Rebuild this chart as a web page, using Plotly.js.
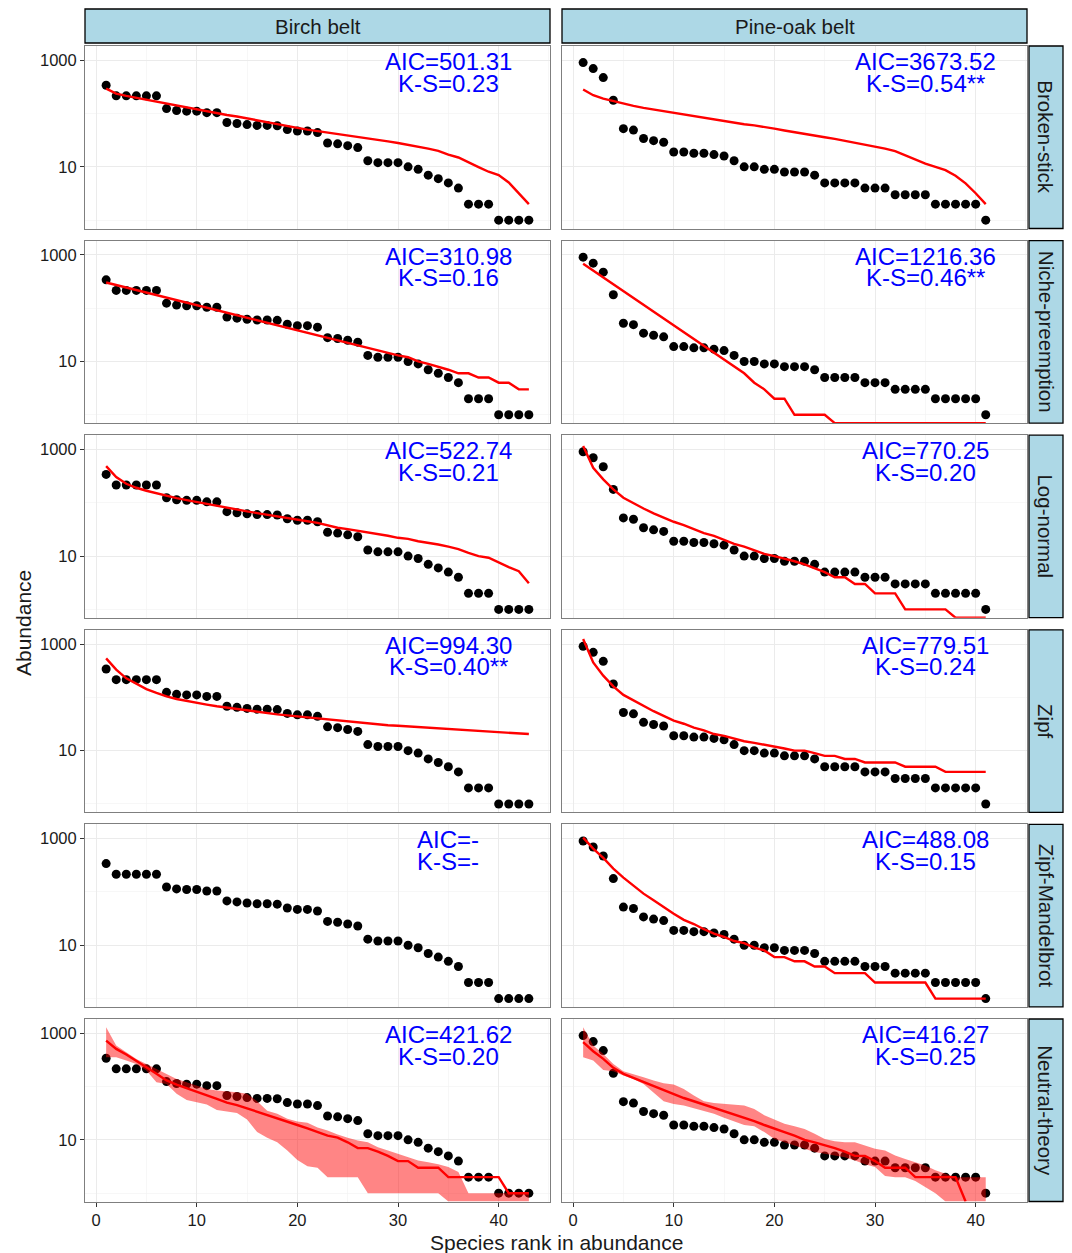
<!DOCTYPE html>
<html>
<head>
<meta charset="utf-8">
<script src="https://cdn.plot.ly/plotly-3.0.1.min.js"></script>
<style>html,body{margin:0;padding:0;background:#fff;}#chart{width:1072px;height:1253px;}</style>
</head>
<body>
<div id="chart"></div>
<script>
// ---------- DATA ----------
const belts = ["Birch belt", "Pine-oak belt"];
const models = ["Broken-stick", "Niche-preemption", "Log-normal", "Zipf", "Zipf-Mandelbrot", "Neutral-theory"];

const birchAbund = [340,215,215,215,215,215,124,114,111,111,104,104,68,65,62,60,60,59,50,47,47,44,28,27,25,23,13,12,12,12,10,9,7,6,5,4,2,2,2,1,1,1,1];
const pineAbund = [904,698,473,178,52,49,34,31,29,19,19,18,18,17,16,13,10,10,9,9,8,8,8,7,5,5,5,5,4,4,4,3,3,3,3,2,2,2,2,2,1];

const birchBrokenStick = [294,237,214,197,180,165,152,139,130,119,111,101,94,88,81,74,68,62,58,54,50,47,44,42,39,37,34,32,30,28,26,24,22,20,17,15,12.4,9.9,8.1,7.0,5.1,3.2,2.0];
const pineBrokenStick = [282,221,191,170,154,139,128,119,111,103,96,89,83,78,73,68,63,60,55,52,48,45,42,39,36,33.5,31,28.6,26,24,22,19.7,16.5,13.9,11.5,10,8.7,6.8,4.9,3.2,2.0];

const birchPreemption = [303,272,244,218,196,176,158,142,127,114,102,92,82,74,66,59,53,48,43,38,34,31,28,25,22,20,18,16,14.5,13,12,10,9,8,7,6,6,5,5,4,4,3,3];
const pinePreemption = [678,505,376,280,208,155,116,86,64,48,36,26.5,19.7,14.7,10.9,8.1,6,4,3,2,2,1,1,1,1,0,0,0,0,0,0,0,0,0,0,0,0,0,0,0,0];

const birchLognormal = [487,303,227,191,168,150,133,122,112,103,94,87,79,74,69,64,60,55,52,48,45,42,38,34,32,30,28,26,24,22,21,19,18,16.5,15,13.5,11.5,10,9.3,7.5,6.2,5.2,3.1];
const pineLognormal = [1155,453,274,178,124,97,78,63,52,44,38,32,27,24,20,17,15,13,11,10,9,8,7,6,5,4,4,3,3,2,2,2,1,1,1,1,1,0,0,0,0];

const birchZipf = [538,331,227,178,143,121,104,93,85,78,73,68,64,60,57,54,51,48,46,44,42,40,38,36.5,35,33.5,32,31,30,29.4,28.6,27.8,27,26,25.5,24.8,24,23.7,23,22.7,22,21.4,20.5];
const pineZipf = [1241,453,255,161,111,87,68,55,45,36.5,32,27,24,20.5,19,17,15,14,13,12,11,10,10,9,8,8,7,7,6,6,6,6,5,5,5,5,4,4,4,4,4];

const birchZipfMandelbrot = null; // not fitted (AIC=-)
const pineZipfMandelbrot = [1044,649,434,274,186,133,93,70,52,39,30,25,20,16.5,14.3,12,11,9,8,6,6,5,5,4,4,3,3,3,3,2,2,2,2,2,2,1,1,1,1,1,1];

const birchNeutral = [729,508,398,307,230,173,130,109,94,82,70,59,50,45,39,34,29,25.5,22.4,19,16.5,14.3,12,11,9,7,7,6,5,4,4,3,3,3,2,2,2,2,2,2,1,1,1];
const birchNeutralUpper = [1300,587,440,330,266,214,173,139,121,104,90,84,82,78,73,53,35,31,25,22,21,17,15,12.6,11,9.7,9,7.3,6.3,5.5,4.7,4.1,3.8,3.5,3.1,2.5,1,1,1,1,1,1,1];
const birchNeutralLower = [355,355,307,266,200,121,112,73,56,51,46,36.5,34.5,32,24,14,11,9,6.3,4.2,3.2,3,2,2,2,2,1,1,1,1,1,1,1,1,0,0,0,0,0,0,0,0,0];
const pineNeutral = [678,460,330,224,173,145,121,101,87,73,61,53,46,40,34.5,30,26,22.4,19,16.5,14,12,10,9,8,7,6,5,5,4,3,3,3,2,2,2,2,2,0];
const pineNeutralUpper = [1296,587,410,266,194,173,150,130,115,109,90,68,53,49,47,46,44,38,29,24,20,18,16,13,10.4,9.4,9,9,7.8,6.8,6.3,5.1,4.4,3.8,3.3,2.7,2.3,2,2,2,2];
const pineNeutralLower = [355,307,205,194,161,139,112,78,53,47,44,39,35,31,26,22,19,18,14,10.4,9,7.8,6.8,5.9,5.5,5.1,4.7,4.1,3.5,3.1,2.1,2,2,1.7,1.3,1,0,0,0,0,0];

const birchAIC = ["AIC=501.31","AIC=310.98","AIC=522.74","AIC=994.30","AIC=-","AIC=421.62"];
const birchKS  = ["K-S=0.23","K-S=0.16","K-S=0.21","K-S=0.40**","K-S=-","K-S=0.20"];
const pineAIC  = ["AIC=3673.52","AIC=1216.36","AIC=770.25","AIC=779.51","AIC=488.08","AIC=416.27"];
const pineKS   = ["K-S=0.54**","K-S=0.46**","K-S=0.20","K-S=0.24","K-S=0.15","K-S=0.25"];

const xTicks = [0,10,20,30,40];
const yTicks = [10,1000];
const yTickText = ["10","1000"];

// ---------- BUILD ----------
const W = 1072, H = 1253;
const FONT = "Liberation Sans, Arial, Helvetica, sans-serif";
const YR = [-0.156, 3.267];
const XR = [-1.1, 45.1];
const floorVal = Math.pow(10, YR[0]);
const clamp = arr => arr.map(v => v > 0 ? v : floorVal);
const ranks = arr => arr.map((_, i) => i + 1);

const colPx = [[85, 550], [562, 1027]];
const rowTop = i => 46 + i * 194.6;
const rowH = 182.5;

const obs = [birchAbund, pineAbund];
const fits = [
  [birchBrokenStick, birchPreemption, birchLognormal, birchZipf, birchZipfMandelbrot, birchNeutral],
  [pineBrokenStick, pinePreemption, pineLognormal, pineZipf, pineZipfMandelbrot, pineNeutral]
];
const bands = [
  [birchNeutralLower, birchNeutralUpper],
  [pineNeutralLower, pineNeutralUpper]
];
const aic = [birchAIC, pineAIC];
const ks = [birchKS, pineKS];

const data = [];
const layout = {
  width: W, height: H,
  margin: {l: 0, r: 0, t: 0, b: 0},
  paper_bgcolor: "#fff", plot_bgcolor: "#fff",
  showlegend: false,
  font: {family: FONT, color: "#1a1a1a"},
  annotations: [], shapes: []
};

for (let r = 0; r < 6; r++) {
  for (let c = 0; c < 2; c++) {
    const n = r * 2 + c + 1;
    const xs = "x" + (n > 1 ? n : ""), ys = "y" + (n > 1 ? n : "");
    const top = rowTop(r);
    layout["xaxis" + (n > 1 ? n : "")] = {
      domain: [colPx[c][0] / W, colPx[c][1] / W],
      anchor: ys, range: XR, tickvals: xTicks,
      showticklabels: r === 5, ticks: r === 5 ? "outside" : "",
      ticklen: 4, tickcolor: "#333", tickwidth: 1,
      tickfont: {size: 16.5, color: "#1a1a1a", family: FONT},
      showgrid: true, gridcolor: "#ebebeb", gridwidth: 1,
      minor: {tickmode: "array", tickvals: [5,15,25,35,45], showgrid: true, gridcolor: "#f2f2f2", gridwidth: 0.6, ticks: ""},
      zeroline: false, showline: true, mirror: true, linecolor: "#7f7f7f", linewidth: 1
    };
    layout["yaxis" + (n > 1 ? n : "")] = {
      domain: [1 - (top + rowH) / H, 1 - top / H],
      anchor: xs, type: "log", range: YR,
      tickmode: "array", tickvals: yTicks, ticktext: yTickText,
      showticklabels: c === 0, ticks: c === 0 ? "outside" : "",
      ticklen: 4, tickcolor: "#333", tickwidth: 1,
      tickfont: {size: 16.5, color: "#1a1a1a", family: FONT},
      showgrid: true, gridcolor: "#ebebeb", gridwidth: 1,
      minor: {tickmode: "array", tickvals: [1,100], showgrid: true, gridcolor: "#f2f2f2", gridwidth: 0.6, ticks: ""},
      zeroline: false, showline: true, mirror: true, linecolor: "#7f7f7f", linewidth: 1
    };

    // observed points
    data.push({type: "scatter", mode: "markers", x: ranks(obs[c]), y: obs[c], xaxis: xs, yaxis: ys,
      marker: {color: "#000", size: 9, line: {width: 0}}, hoverinfo: "skip"});

    // neutral band
    if (r === 5) {
      const lo = bands[c][0], hi = bands[c][1];
      data.push({type: "scatter", mode: "lines", x: ranks(lo), y: clamp(lo), xaxis: xs, yaxis: ys,
        line: {width: 0, color: "rgba(255,0,0,0)"}, hoverinfo: "skip"});
      data.push({type: "scatter", mode: "lines", x: ranks(hi), y: clamp(hi), xaxis: xs, yaxis: ys,
        line: {width: 0, color: "rgba(255,0,0,0)"}, fill: "tonexty", fillcolor: "rgba(255,0,0,0.48)", hoverinfo: "skip"});
    }
    // fitted line
    const f = fits[c][r];
    if (f) {
      data.push({type: "scatter", mode: "lines", x: ranks(f), y: clamp(f), xaxis: xs, yaxis: ys,
        line: {color: "#ff0000", width: 2.4}, hoverinfo: "skip"});
    }

    // AIC / K-S labels
    layout.annotations.push({xref: xs, yref: ys, x: 35, y: 2.975, text: aic[c][r], showarrow: false,
      font: {size: 24, color: "#0000ff", family: FONT}, xanchor: "center", yanchor: "middle"});
    layout.annotations.push({xref: xs, yref: ys, x: 35, y: 2.57, text: ks[c][r], showarrow: false,
      font: {size: 24, color: "#0000ff", family: FONT}, xanchor: "center", yanchor: "middle"});
  }
}

// top strips
for (let c = 0; c < 2; c++) {
  layout.shapes.push({type: "rect", xref: "paper", yref: "paper",
    x0: colPx[c][0] / W, x1: colPx[c][1] / W, y0: 1 - 43 / H, y1: 1 - 9 / H,
    fillcolor: "#add8e6", line: {color: "#000", width: 1.3}});
  layout.annotations.push({xref: "paper", yref: "paper", x: (colPx[c][0] + colPx[c][1]) / 2 / W, y: 1 - 27 / H,
    text: belts[c], showarrow: false, font: {size: 20.5, color: "#1a1a1a", family: FONT}, xanchor: "center", yanchor: "middle"});
}
// right strips
for (let r = 0; r < 6; r++) {
  const top = rowTop(r);
  layout.shapes.push({type: "rect", xref: "paper", yref: "paper",
    x0: 1029 / W, x1: 1063 / W, y0: 1 - (top + rowH) / H, y1: 1 - top / H,
    fillcolor: "#add8e6", line: {color: "#000", width: 1.3}});
  layout.annotations.push({xref: "paper", yref: "paper", x: 1046 / W, y: 1 - (top + rowH / 2) / H,
    text: models[r], textangle: 90, showarrow: false, font: {size: 20.5, color: "#1a1a1a", family: FONT},
    xanchor: "center", yanchor: "middle"});
}
// axis titles
layout.annotations.push({xref: "paper", yref: "paper", x: 556 / W, y: 1 - 1242 / H, text: "Species rank in abundance",
  showarrow: false, font: {size: 21, color: "#1a1a1a", family: FONT}, xanchor: "center", yanchor: "middle"});
layout.annotations.push({xref: "paper", yref: "paper", x: 23 / W, y: 1 - 623 / H, text: "Abundance", textangle: -90,
  showarrow: false, font: {size: 21, color: "#1a1a1a", family: FONT}, xanchor: "center", yanchor: "middle"});

Plotly.newPlot("chart", data, layout, {staticPlot: true, displayModeBar: false});
</script>
</body>
</html>
